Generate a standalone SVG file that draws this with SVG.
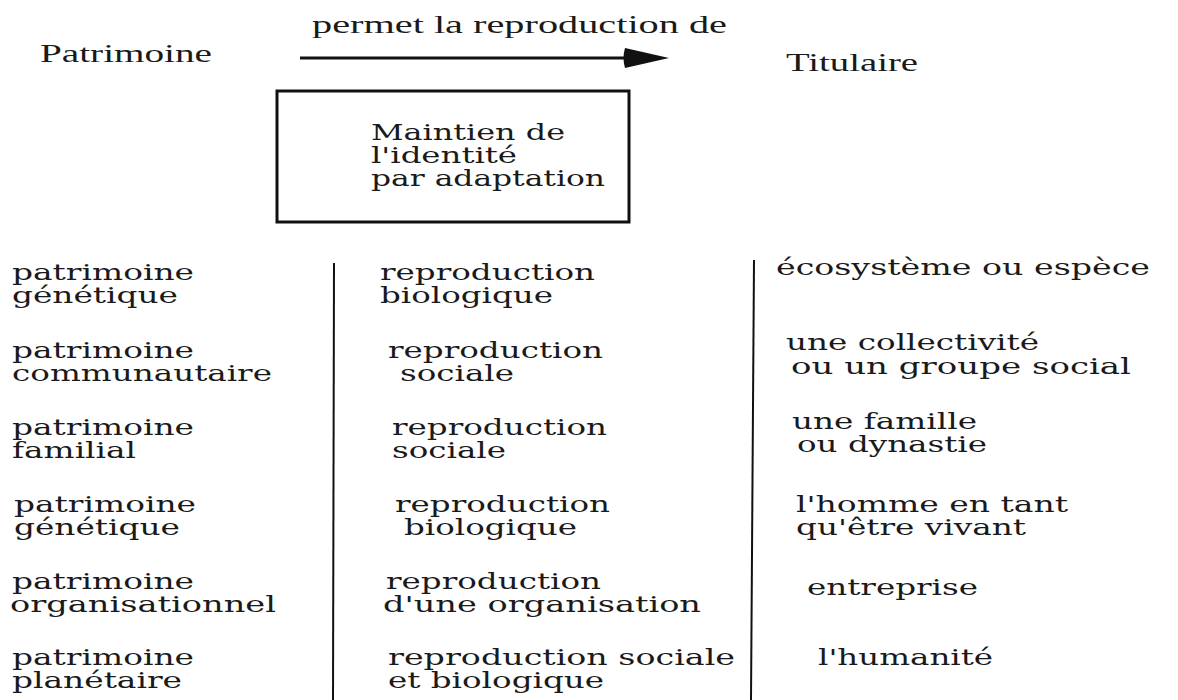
<svg xmlns="http://www.w3.org/2000/svg" width="1178" height="700" viewBox="0 0 1178 700">
  <style>
    .head { font-family: "Liberation Serif", "Times New Roman", serif; font-size: 26px; fill: #1a1a1a; }
    .cell { font-family: "DejaVu Serif", "Liberation Serif", serif; font-size: 22px; fill: #1a1a1a; }
    .rule { stroke: #111; stroke-width: 2; fill: none; }
    .frame { stroke: #111; stroke-width: 3; fill: #fff; }
  </style>
  <defs>
    <marker id="arrowhead" viewBox="0 0 44 20" refX="1" refY="10" markerWidth="44" markerHeight="20" markerUnits="userSpaceOnUse" orient="auto" overflow="visible">
      <path d="M0,0 L44,10 L0,20 Q-3,10 0,0 Z" fill="#111"/>
    </marker>
  </defs>
  <rect width="1178" height="700" fill="#fff"/>

  <!-- header: source, relation, holder -->
  <g id="patrimoine">
    <text class="head" x="40" y="62" textLength="172" lengthAdjust="spacingAndGlyphs">Patrimoine</text>
  </g>
  <g id="titulaire">
    <text class="head" x="786" y="71" textLength="132" lengthAdjust="spacingAndGlyphs">Titulaire</text>
  </g>

  <g id="connectors">
    <line x1="300" y1="58" x2="626" y2="58" stroke="#111" stroke-width="3" marker-end="url(#arrowhead)"/>
    <text class="head" x="312" y="33" textLength="415" lengthAdjust="spacingAndGlyphs">permet la reproduction de</text>
  </g>

  <g id="maintien">
    <rect class="frame" x="277" y="91" width="352" height="131"/>
    <text class="cell" x="371" y="140" textLength="194" lengthAdjust="spacingAndGlyphs">Maintien de</text>
    <text class="cell" x="371" y="163" textLength="146" lengthAdjust="spacingAndGlyphs">l'identité</text>
    <text class="cell" x="371" y="186" textLength="234" lengthAdjust="spacingAndGlyphs">par adaptation</text>
  </g>

  <!-- column separators -->
  <g id="dividers">
    <line class="rule" x1="334" y1="263" x2="333" y2="700"/>
    <line class="rule" x1="754" y1="260" x2="751" y2="700"/>
  </g>

  <!-- row 1 -->
  <g id="pat-genetique-1">
    <text class="cell" x="12" y="280" textLength="182" lengthAdjust="spacingAndGlyphs">patrimoine</text>
    <text class="cell" x="12" y="303" textLength="166" lengthAdjust="spacingAndGlyphs">génétique</text>
  </g>
  <g id="repro-bio-1">
    <text class="cell" x="380" y="280" textLength="215" lengthAdjust="spacingAndGlyphs">reproduction</text>
    <text class="cell" x="380" y="303" textLength="173" lengthAdjust="spacingAndGlyphs">biologique</text>
  </g>
  <g id="ecosysteme">
    <text class="cell" x="776" y="275" textLength="374" lengthAdjust="spacingAndGlyphs">écosystème ou espèce</text>
  </g>

  <!-- row 2 -->
  <g id="pat-communautaire">
    <text class="cell" x="12" y="358" textLength="182" lengthAdjust="spacingAndGlyphs">patrimoine</text>
    <text class="cell" x="12" y="381" textLength="260" lengthAdjust="spacingAndGlyphs">communautaire</text>
  </g>
  <g id="repro-sociale-2">
    <text class="cell" x="388" y="358" textLength="215" lengthAdjust="spacingAndGlyphs">reproduction</text>
    <text class="cell" x="400" y="381" textLength="114" lengthAdjust="spacingAndGlyphs">sociale</text>
  </g>
  <g id="collectivite">
    <text class="cell" x="786" y="350" textLength="253" lengthAdjust="spacingAndGlyphs">une collectivité</text>
    <text class="cell" x="791" y="374" textLength="340" lengthAdjust="spacingAndGlyphs">ou un groupe social</text>
  </g>

  <!-- row 3 -->
  <g id="pat-familial">
    <text class="cell" x="12" y="435" textLength="182" lengthAdjust="spacingAndGlyphs">patrimoine</text>
    <text class="cell" x="12" y="458" textLength="124" lengthAdjust="spacingAndGlyphs">familial</text>
  </g>
  <g id="repro-sociale-3">
    <text class="cell" x="392" y="435" textLength="215" lengthAdjust="spacingAndGlyphs">reproduction</text>
    <text class="cell" x="392" y="458" textLength="114" lengthAdjust="spacingAndGlyphs">sociale</text>
  </g>
  <g id="famille">
    <text class="cell" x="792" y="429" textLength="185" lengthAdjust="spacingAndGlyphs">une famille</text>
    <text class="cell" x="797" y="452" textLength="190" lengthAdjust="spacingAndGlyphs">ou dynastie</text>
  </g>

  <!-- row 4 -->
  <g id="pat-genetique-2">
    <text class="cell" x="14" y="512" textLength="182" lengthAdjust="spacingAndGlyphs">patrimoine</text>
    <text class="cell" x="14" y="535" textLength="166" lengthAdjust="spacingAndGlyphs">génétique</text>
  </g>
  <g id="repro-bio-4">
    <text class="cell" x="395" y="512" textLength="215" lengthAdjust="spacingAndGlyphs">reproduction</text>
    <text class="cell" x="404" y="535" textLength="173" lengthAdjust="spacingAndGlyphs">biologique</text>
  </g>
  <g id="homme">
    <text class="cell" x="796" y="512" textLength="272" lengthAdjust="spacingAndGlyphs">l'homme en tant</text>
    <text class="cell" x="796" y="535" textLength="230" lengthAdjust="spacingAndGlyphs">qu'être vivant</text>
  </g>

  <!-- row 5 -->
  <g id="pat-organisationnel">
    <text class="cell" x="12" y="589" textLength="182" lengthAdjust="spacingAndGlyphs">patrimoine</text>
    <text class="cell" x="10" y="612" textLength="266" lengthAdjust="spacingAndGlyphs">organisationnel</text>
  </g>
  <g id="repro-organisation">
    <text class="cell" x="386" y="589" textLength="215" lengthAdjust="spacingAndGlyphs">reproduction</text>
    <text class="cell" x="383" y="612" textLength="318" lengthAdjust="spacingAndGlyphs">d'une organisation</text>
  </g>
  <g id="entreprise">
    <text class="cell" x="807" y="595" textLength="171" lengthAdjust="spacingAndGlyphs">entreprise</text>
  </g>

  <!-- row 6 -->
  <g id="pat-planetaire">
    <text class="cell" x="12" y="665" textLength="182" lengthAdjust="spacingAndGlyphs">patrimoine</text>
    <text class="cell" x="12" y="688" textLength="170" lengthAdjust="spacingAndGlyphs">planétaire</text>
  </g>
  <g id="repro-sociale-bio">
    <text class="cell" x="388" y="665" textLength="347" lengthAdjust="spacingAndGlyphs">reproduction sociale</text>
    <text class="cell" x="388" y="688" textLength="216" lengthAdjust="spacingAndGlyphs">et biologique</text>
  </g>
  <g id="humanite">
    <text class="cell" x="818" y="665" textLength="175" lengthAdjust="spacingAndGlyphs">l'humanité</text>
  </g>
</svg>
